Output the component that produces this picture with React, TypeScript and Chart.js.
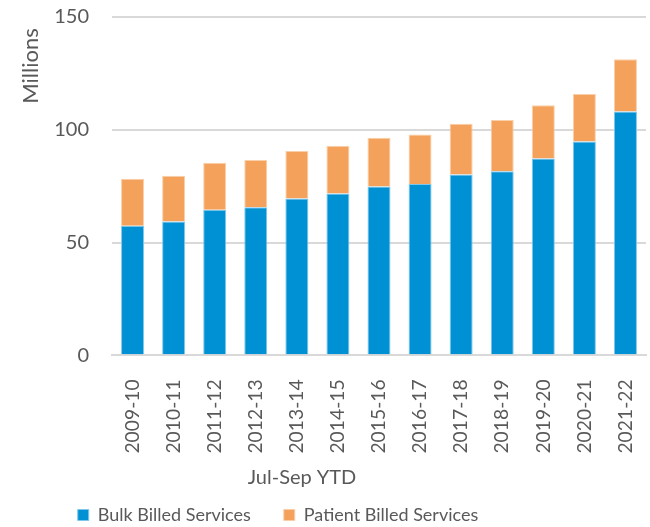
import React, { useEffect, useRef } from "react";
import { Chart, registerables } from "chart.js";

Chart.register(...registerables);

const categories = ["2009-10","2010-11","2011-12","2012-13","2013-14","2014-15","2015-16","2016-17","2017-18","2018-19","2019-20","2020-21","2021-22"];
const bulkBilled = [57.5, 59.3, 64.6, 65.6, 69.5, 71.8, 74.9, 76.0, 80.2, 81.6, 87.3, 94.8, 108.1];
const totals = [78.3, 79.6, 85.4, 86.6, 90.6, 92.9, 96.5, 97.9, 102.7, 104.3, 110.9, 115.9, 131.3];
const patientBilled = totals.map((t, i) => Math.round((t - bulkBilled[i]) * 10) / 10);
const yTicks = [0, 50, 100, 150];

const FONT = "Lato";
const GREY = "#595959";

// Horizontal placement of the bottom boxes, as in the reference
const boxShift = {
  id: "boxShift",
  afterLayout(chart: any) {
    if (chart.legend) {
      chart.legend.left -= 54;
      chart.legend.right -= 54;
    }
    if (chart.titleBlock) {
      chart.titleBlock.left -= 30;
      chart.titleBlock.right -= 30;
    }
  },
};

export default function App() {
  const ref = useRef<HTMLCanvasElement>(null);
  useEffect(() => {
    document.body.style.margin = "0";
    const chart = new Chart(ref.current!, {
      type: "bar",
      data: {
        labels: categories,
        datasets: [
          { label: "Bulk Billed Services", data: bulkBilled, backgroundColor: "#0090D4", borderColor: "#7fc7ea", borderWidth: 1, barPercentage: 0.56, categoryPercentage: 1 },
          { label: "Patient Billed Services", data: patientBilled, backgroundColor: "#F4A25B", borderColor: "#f9cfa9", borderWidth: 1, barPercentage: 0.56, categoryPercentage: 1 },
        ],
      },
      plugins: [boxShift],
      options: {
        animation: false,
        responsive: false,
        layout: { padding: { left: 18, right: 4, top: 17, bottom: -7 } },
        scales: {
          x: {
            stacked: true,
            grid: { display: false, drawTicks: true, tickLength: 24 },
            border: { color: "#d9d9d9", width: 2 },
            ticks: { color: GREY, font: { family: FONT, size: 19.3 }, minRotation: 90, maxRotation: 90, padding: 0 },
          },
          y: {
            stacked: true,
            min: 0,
            max: 150,
            afterBuildTicks: (axis: any) => { axis.ticks = yTicks.map((v) => ({ value: v })); },
            grid: { color: "#d9d9d9", lineWidth: 2, drawTicks: true, tickLength: 23, tickColor: "rgba(0,0,0,0)" },
            border: { display: false },
            ticks: { color: GREY, font: { family: FONT, size: 20 }, padding: 0 },
            title: { display: true, text: "Millions  ", align: "end", color: GREY, font: { family: FONT, size: 22 }, padding: { top: 0, bottom: 9.8 } },
          },
        },
        plugins: {
          title: {
            display: true,
            text: "Jul-Sep YTD",
            position: "bottom",
            weight: 500,
            color: GREY,
            font: { family: FONT, size: 20, weight: "normal" },
            padding: { top: 12, bottom: -16.6 },
          },
          legend: {
            position: "bottom",
            labels: { color: GREY, font: { family: FONT, size: 18 }, boxWidth: 11, boxHeight: 11, padding: 33 },
          },
          tooltip: { enabled: false },
        },
      },
    });
    return () => chart.destroy();
  }, []);
  return <canvas ref={ref} width={650} height={527} style={{ display: "block" }} />;
}
